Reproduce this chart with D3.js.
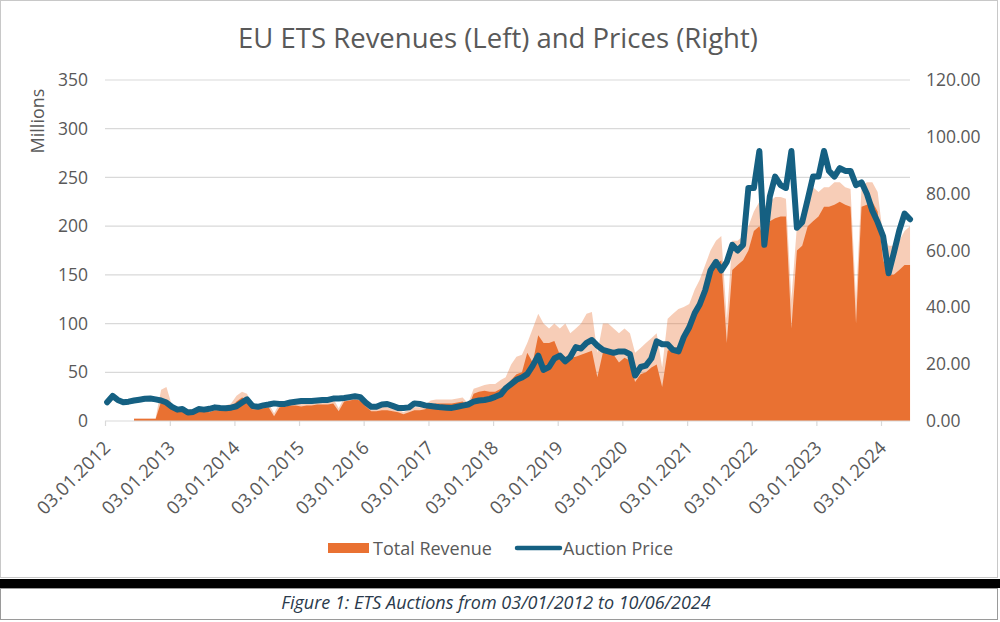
<!DOCTYPE html>
<html><head><meta charset="utf-8">
<script src="https://cdn.jsdelivr.net/npm/d3@7"></script>
<style>body{margin:0;background:#fff;} svg{display:block;font-family:"Open Sans",sans-serif;}</style>
</head><body><svg id="c" width="1000" height="622"></svg>
<script>
// Monthly auction price (EUR), Jan 2012 - Jun 2024
const price2012 = [6.6, 8.8, 7.4, 6.6, 6.8, 7.2, 7.5, 7.8, 7.9, 7.6, 7.2, 6.5];
const price2013 = [5.0, 4.0, 4.2, 3.0, 3.2, 4.2, 4.0, 4.3, 4.8, 4.6, 4.5, 4.7];
const price2014 = [5.2, 6.5, 7.6, 5.3, 5.0, 5.5, 5.8, 6.2, 6.0, 6.0, 6.5, 6.8];
const price2015 = [7.0, 7.0, 7.0, 7.2, 7.4, 7.4, 7.9, 7.9, 8.1, 8.4, 8.7, 8.4];
const price2016 = [6.5, 5.0, 5.0, 5.8, 6.0, 5.3, 4.6, 4.6, 4.8, 6.2, 6.0, 5.5];
const price2017 = [5.3, 5.0, 4.8, 4.7, 4.6, 5.0, 5.4, 5.8, 6.8, 7.2, 7.4, 7.8];
const price2018 = [8.5, 9.3, 11.5, 13.0, 14.5, 15.3, 16.5, 19.5, 23.0, 18.0, 19.0, 22.0];
const price2019 = [23.0, 21.0, 22.5, 26.0, 25.5, 27.5, 28.5, 26.5, 25.0, 24.5, 24.0, 24.5];
const price2020 = [24.5, 23.5, 16.0, 19.0, 19.5, 22.0, 28.0, 27.0, 27.0, 25.0, 24.5, 29.5];
const price2021 = [33.0, 38.0, 41.0, 46.0, 53.0, 56.0, 53.0, 56.0, 62.0, 60.0, 62.0, 82.0];
const price2022 = [82.0, 95.0, 62.0, 79.0, 86.0, 83.0, 82.0, 95.0, 68.0, 70.0, 78.0, 86.0];
const price2023 = [86.0, 95.0, 88.0, 86.0, 89.0, 88.0, 88.0, 83.0, 84.0, 80.0, 74.0, 70.0];
const price2024 = [65.0, 52.0, 59.0, 67.0, 73.0, 71.0];

// Monthly total revenue (millions): typical level and spike peaks
const revenue2012 = [0, 0, 0, 0, 0, 2, 2, 2, 2, 2, 20, 22];
const revenue2013 = [12, 11, 10, 9, 9, 10, 10, 9, 11, 11, 12, 14];
const revenue2014 = [20, 24, 22, 12, 12, 13, 14, 5, 14, 15, 16, 16];
const revenue2015 = [15, 16, 16, 17, 17, 17, 18, 10, 20, 21, 22, 21];
const revenue2016 = [15, 10, 10, 11, 11, 10, 9, 7, 9, 11, 11, 12];
const revenue2017 = [17, 18, 18, 18, 18, 19, 20, 14, 28, 30, 31, 30];
const revenue2018 = [30, 33, 36, 42, 48, 50, 70, 60, 88, 80, 80, 82];
const revenue2019 = [68, 66, 65, 66, 68, 70, 72, 45, 70, 70, 68, 60];
const revenue2020 = [65, 62, 40, 48, 50, 55, 58, 35, 72, 75, 76, 85];
const revenue2021 = [100, 115, 125, 140, 150, 160, 165, 80, 155, 160, 165, 175];
const revenue2022 = [195, 200, 185, 205, 208, 210, 210, 95, 175, 180, 200, 205];
const revenue2023 = [210, 220, 220, 222, 225, 222, 220, 100, 220, 222, 225, 215];
const revenue2024 = [165, 150, 150, 155, 160, 160];

const peak2012 = [0, 0, 0, 0, 0, 3, 3, 3, 3, 3, 32, 35];
const peak2013 = [16, 14, 13, 12, 12, 13, 13, 12, 14, 14, 16, 18];
const peak2014 = [26, 30, 28, 16, 16, 17, 18, 8, 18, 19, 20, 20];
const peak2015 = [20, 21, 21, 22, 22, 22, 23, 13, 24, 25, 26, 25];
const peak2016 = [20, 14, 14, 15, 14, 13, 12, 9, 12, 14, 14, 16];
const peak2017 = [21, 22, 22, 22, 22, 23, 24, 18, 33, 35, 37, 38];
const peak2018 = [38, 42, 45, 58, 66, 68, 80, 95, 110, 100, 95, 100];
const peak2019 = [95, 100, 90, 95, 100, 110, 112, 70, 100, 100, 95, 90];
const peak2020 = [95, 90, 70, 75, 80, 85, 90, 55, 105, 110, 115, 117];
const peak2021 = [120, 135, 145, 160, 175, 185, 190, 105, 185, 185, 190, 200];
const peak2022 = [215, 225, 220, 225, 230, 230, 228, 125, 200, 210, 235, 240];
const peak2023 = [235, 240, 240, 245, 245, 240, 238, 125, 240, 245, 245, 235];
const peak2024 = [190, 180, 180, 185, 195, 200];

const yearTicks = ["03.01.2012","03.01.2013","03.01.2014","03.01.2015","03.01.2016","03.01.2017","03.01.2018","03.01.2019","03.01.2020","03.01.2021","03.01.2022","03.01.2023","03.01.2024"];
const leftTicks = [0, 50, 100, 150, 200, 250, 300, 350];
const rightTicks = [0, 20, 40, 60, 80, 100, 120];

const priceValues = [].concat(price2012, price2013, price2014, price2015, price2016, price2017, price2018, price2019, price2020, price2021, price2022, price2023, price2024);
const revenueValues = [].concat(revenue2012, revenue2013, revenue2014, revenue2015, revenue2016, revenue2017, revenue2018, revenue2019, revenue2020, revenue2021, revenue2022, revenue2023, revenue2024);
const peakValues = [].concat(peak2012, peak2013, peak2014, peak2015, peak2016, peak2017, peak2018, peak2019, peak2020, peak2021, peak2022, peak2023, peak2024);

const parse = d3.timeParse("%d.%m.%Y");
const months = d3.timeMonth.range(new Date(2012, 0, 1), new Date(2024, 6, 1)).map(m => d3.timeDay.offset(m, 14));
const data = months.map((d, i) => ({date: d, price: priceValues[i], rev: revenueValues[i], peak: peakValues[i]}));

const svg = d3.select("#c");
const ORANGE = "#E97132", BLUE = "#156082", TXT = "#595959", GRID = "#D9D9D9";
const FONT = "Open Sans, sans-serif";

// frame
svg.append("rect").attr("x", 0.5).attr("y", 0.5).attr("width", 997).attr("height", 577).attr("fill", "#fff").attr("stroke", "#C8C8C8");
svg.append("rect").attr("x", 0).attr("y", 579).attr("width", 1000).attr("height", 9).attr("fill", "#000");
svg.append("rect").attr("x", 0.5).attr("y", 588.5).attr("width", 997).attr("height", 31).attr("fill", "#fff").attr("stroke", "#9A9A9A");
svg.append("text").attr("x", 496).attr("y", 609).attr("text-anchor", "middle")
  .attr("font-style", "italic").attr("font-size", 18).attr("fill", "#2A3A4C")
  .text("Figure 1: ETS Auctions from 03/01/2012 to 10/06/2024");

const x = d3.scaleTime().domain([parse("03.01.2012"), parse("03.01.2024")]).range([105, 881]);
const yL = d3.scaleLinear().domain([0, 350]).range([421, 80]);
const yR = d3.scaleLinear().domain([0, 120]).range([421, 80]);

// title
svg.append("text").attr("x", 498).attr("y", 48).attr("text-anchor", "middle")
  .attr("font-size", 27.5).attr("fill", TXT).text("EU ETS Revenues (Left) and Prices (Right)");

// gridlines
svg.append("g").selectAll("line").data(leftTicks.slice(1)).join("line")
  .attr("x1", 105).attr("x2", 910).attr("y1", d => yL(d)).attr("y2", d => yL(d))
  .attr("stroke", GRID).attr("stroke-width", 1.2);

// left axis
const gL = svg.append("g").attr("transform", "translate(92,0)")
  .call(d3.axisLeft(yL).tickValues(leftTicks).tickSize(0).tickPadding(4));
gL.select(".domain").remove();
gL.selectAll("text").attr("font-size", 17.5).attr("fill", TXT).attr("font-family", FONT);
svg.append("text").attr("transform", "translate(44,121) rotate(-90)").attr("text-anchor", "middle")
  .attr("font-size", 18).attr("fill", TXT).text("Millions");

// right axis
const gR = svg.append("g").attr("transform", "translate(922,0)")
  .call(d3.axisRight(yR).tickValues(rightTicks).tickSize(0).tickPadding(4).tickFormat(d3.format(".2f")));
gR.select(".domain").remove();
gR.selectAll("text").attr("font-size", 17.5).attr("fill", TXT).attr("font-family", FONT);

// revenue areas
const areaPeak = d3.area().x(d => x(d.date)).y0(yL(0)).y1(d => yL(d.peak));
const areaRev = d3.area().x(d => x(d.date)).y0(yL(0)).y1(d => yL(d.rev));
const revData = data.filter(d => d.peak > 0 || d.rev > 0);
svg.append("path").datum(revData).attr("d", areaPeak).attr("fill", ORANGE).attr("opacity", 0.35);
svg.append("path").datum(revData).attr("d", areaRev).attr("fill", ORANGE);

// x axis
const gX = svg.append("g").attr("transform", `translate(0,${yL(0)})`)
  .call(d3.axisBottom(x).tickValues(yearTicks.map(parse)).tickSize(5).tickFormat(d3.timeFormat("%d.%m.%Y")));
gX.select(".domain").attr("d", "M105,0H910").attr("stroke", GRID).attr("stroke-width", 1.2);
gX.selectAll(".tick line").attr("stroke", GRID).attr("stroke-width", 1.2);
gX.selectAll("text").attr("font-size", 18.5).attr("fill", TXT).attr("font-family", FONT)
  .attr("text-anchor", "end").attr("x", 0).attr("y", 0).attr("dx", 0).attr("dy", 0)
  .attr("transform", "translate(6,28) rotate(-45)");

// price line
const line = d3.line().x(d => x(d.date)).y(d => yR(d.price));
svg.append("path").datum(data).attr("d", line).attr("fill", "none")
  .attr("stroke", BLUE).attr("stroke-width", 6).attr("stroke-linejoin", "round").attr("stroke-linecap", "round");

// legend
const lg = svg.append("g");
lg.append("rect").attr("x", 328).attr("y", 543).attr("width", 41).attr("height", 10).attr("fill", ORANGE);
lg.append("text").attr("x", 373).attr("y", 554.5).attr("font-size", 18).attr("fill", TXT).text("Total Revenue");
lg.append("line").attr("x1", 517).attr("x2", 560).attr("y1", 548).attr("y2", 548)
  .attr("stroke", BLUE).attr("stroke-width", 4.5).attr("stroke-linecap", "round");
lg.append("text").attr("x", 563).attr("y", 554.5).attr("font-size", 18).attr("fill", TXT).text("Auction Price");
</script></body></html>
